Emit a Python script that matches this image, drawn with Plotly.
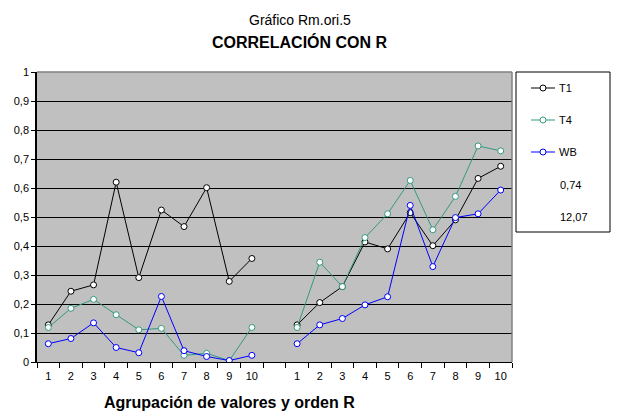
import plotly.graph_objects as go

# ---- data ----
group_labels = ["1", "2", "3", "4", "5", "6", "7", "8", "9", "10"]
t1_g1 = [0.128, 0.244, 0.266, 0.620, 0.291, 0.524, 0.467, 0.601, 0.278, 0.357]
t1_g2 = [0.128, 0.205, 0.260, 0.414, 0.390, 0.515, 0.401, 0.490, 0.633, 0.675]
t4_g1 = [0.119, 0.185, 0.216, 0.163, 0.111, 0.116, 0.023, 0.030, 0.005, 0.119]
t4_g2 = [0.119, 0.344, 0.260, 0.429, 0.511, 0.626, 0.456, 0.571, 0.745, 0.728]
wb_g1 = [0.063, 0.081, 0.135, 0.050, 0.032, 0.226, 0.039, 0.019, 0.005, 0.023]
wb_g2 = [0.063, 0.128, 0.150, 0.197, 0.225, 0.540, 0.329, 0.498, 0.511, 0.593]
series_names = ["T1", "T4", "WB"]
extra_legend = ["0,74", "12,07"]
y_ticks = [0, 0.1, 0.2, 0.3, 0.4, 0.5, 0.6, 0.7, 0.8, 0.9, 1]
y_tick_text = ["0", "0,1", "0,2", "0,3", "0,4", "0,5", "0,6", "0,7", "0,8", "0,9", "1"]

colors = {"T1": "#000000", "T4": "#339980", "WB": "#0000FF"}
FONT = "Liberation Sans, Arial, sans-serif"

# x positions: 1..10, gap at 11, 12..21
x_pos = list(range(1, 11)) + [11] + list(range(12, 22))
tick_pos = list(range(1, 11)) + list(range(12, 22))
tick_text = group_labels + group_labels

def join(a, b):
    return list(a) + [None] + list(b)

data = {"T1": join(t1_g1, t1_g2), "T4": join(t4_g1, t4_g2), "WB": join(wb_g1, wb_g2)}

fig = go.Figure()
for name in series_names:
    fig.add_trace(go.Scatter(
        x=x_pos, y=data[name], mode="lines+markers", name=name,
        connectgaps=False,
        line=dict(color=colors[name], width=1),
        marker=dict(symbol="circle", size=6, color="white",
                    line=dict(color=colors[name], width=1)),
        showlegend=False,
    ))

# plot area in pixels
L, R, T, B = 37, 512, 72, 362
W, H = 620, 420
pw, ph = R - L, B - T

def px(x):
    return (x - L) / pw

def py(y):
    return (B - y) / ph

shapes = []
annotations = []

# grey border of plot area (top & right)
shapes.append(dict(type="line", xref="paper", yref="paper", x0=0, x1=1, y0=1, y1=1,
                   line=dict(color="#808080", width=1.5), layer="above"))
shapes.append(dict(type="line", xref="paper", yref="paper", x0=1, x1=1, y0=0, y1=1,
                   line=dict(color="#808080", width=1.5), layer="above"))

# legend box
shapes.append(dict(type="rect", xref="paper", yref="paper",
                   x0=px(516), x1=px(610), y0=py(232), y1=py(72),
                   line=dict(color="black", width=1), fillcolor="white"))
leg_y = [88, 120, 152]
for name, yy in zip(series_names, leg_y):
    shapes.append(dict(type="line", xref="paper", yref="paper",
                       x0=px(531), x1=px(555), y0=py(yy), y1=py(yy),
                       line=dict(color=colors[name], width=1)))
    shapes.append(dict(type="circle", xref="paper", yref="paper",
                       xsizemode="pixel", ysizemode="pixel",
                       xanchor=px(543), yanchor=py(yy),
                       x0=-3, x1=3, y0=-3, y1=3,
                       line=dict(color=colors[name], width=1), fillcolor="white"))
    annotations.append(dict(text=name, xref="paper", yref="paper", x=px(557), y=py(yy),
                            xanchor="left", yanchor="middle", showarrow=False,
                            font=dict(family=FONT, size=11, color="black")))
for txt, yy in zip(extra_legend, [185, 217]):
    annotations.append(dict(text=txt, xref="paper", yref="paper", x=px(558), y=py(yy),
                            xanchor="left", yanchor="middle", showarrow=False,
                            font=dict(family=FONT, size=11, color="black")))

# titles
annotations.append(dict(text="Gráfico Rm.ori.5", xref="paper", yref="paper",
                        x=px(300), y=py(20), xanchor="center", yanchor="middle",
                        showarrow=False, font=dict(family=FONT, size=14, color="black")))
annotations.append(dict(text="<b>CORRELACIÓN CON R</b>", xref="paper", yref="paper",
                        x=px(300), y=py(42), xanchor="center", yanchor="middle",
                        showarrow=False, font=dict(family=FONT, size=16, color="black")))
annotations.append(dict(text="<b>Agrupación de valores y orden R</b>", xref="paper", yref="paper",
                        x=px(229), y=py(402), xanchor="center", yanchor="middle",
                        showarrow=False, font=dict(family=FONT, size=16, color="black")))

fig.update_layout(
    width=W, height=H,
    margin=dict(l=L, r=W - R, t=T, b=H - B, pad=0),
    paper_bgcolor="white",
    plot_bgcolor="#C0C0C0",
    showlegend=False,
    shapes=shapes,
    annotations=annotations,
    font=dict(family=FONT, size=11, color="black"),
)
fig.update_xaxes(
    range=[0.5, 21.5], tickmode="array", tickvals=tick_pos, ticktext=tick_text,
    ticks="", showgrid=False, zeroline=False,
    showline=True, linecolor="black", linewidth=1,
    tickfont=dict(family=FONT, size=11, color="black"),
    ticklabelstandoff=4,
    minor=dict(tick0=0.5, dtick=1, ticks="outside", ticklen=5, tickcolor="black",
               tickwidth=1, showgrid=False),
    fixedrange=True,
)
fig.update_yaxes(
    range=[0, 1], tickmode="array", tickvals=y_ticks, ticktext=y_tick_text,
    ticks="outside", ticklen=4, tickcolor="black", tickwidth=1,
    showgrid=True, gridcolor="black", gridwidth=1, zeroline=False,
    showline=True, linecolor="black", linewidth=1.5,
    tickfont=dict(family=FONT, size=11, color="black"),
    fixedrange=True,
)

fig.write_html("out.html")
